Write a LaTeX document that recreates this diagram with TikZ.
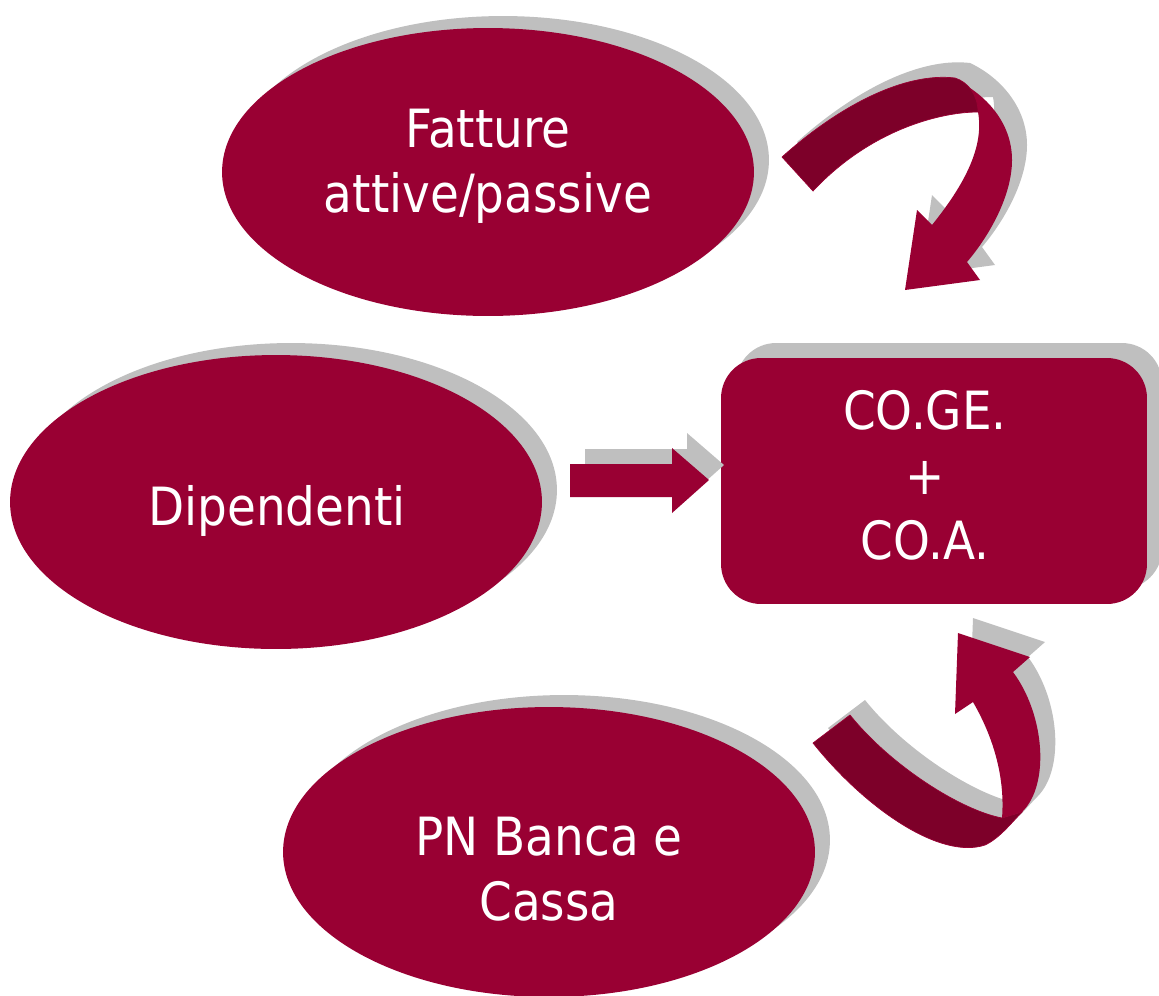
\documentclass[tikz,border=0pt]{standalone}
\usepackage{fontspec}
\setmainfont{DejaVu Sans}[FakeStretch=0.89]
\usetikzlibrary{shapes.geometric,shadows}
\definecolor{wine}{HTML}{990033}
\definecolor{winedark}{HTML}{7D0029}
\definecolor{shade}{HTML}{BFBFBF}
\newcommand\toparrowfull{(782,157) .. controls (840,105) and (905,72) .. (955,78) .. controls (985,92) and (1012,122) .. (1012,160) .. controls (1012,195) and (990,235) .. (967,262) -- (980,280) -- (905,290) -- (917,210) -- (932,225) .. controls (960,190) and (985,150) .. (978,112) .. controls (940,112) and (870,130) .. (813,191) -- cycle}
\newcommand\toparrowlight{(956,80) .. controls (985,94) and (1012,122) .. (1012,160) .. controls (1012,195) and (990,235) .. (967,262) -- (980,280) -- (905,290) -- (917,210) -- (932,225) .. controls (960,190) and (985,150) .. (978,112) -- (960,95) -- cycle}
\newcommand\toparrowdark{(782,157) .. controls (840,105) and (905,72) .. (955,78) .. controls (968,82) and (978,95) .. (978,112) .. controls (940,112) and (870,130) .. (813,191) -- cycle}
\newcommand\botarrowfull{(850,715) -- (813,743) .. controls (865,808) and (940,860) .. (985,845) .. controls (1000,838) and (1012,822) .. (1022,812) .. controls (1050,785) and (1045,715) .. (1013,672) -- (1030,657) -- (958,633) -- (955,714) -- (973,702) .. controls (995,740) and (1005,780) .. (1002,818) .. controls (960,810) and (890,765) .. (850,715) -- cycle}
\newcommand\botarrowlight{(1002,818) .. controls (1005,780) and (995,740) .. (973,702) -- (955,714) -- (958,633) -- (1030,657) -- (1013,672) .. controls (1045,715) and (1050,785) .. (1022,812) -- cycle}
\newcommand\botarrowdark{(850,715) -- (813,743) .. controls (865,808) and (940,860) .. (985,845) .. controls (1000,838) and (1012,822) .. (1022,812) -- (1002,818) .. controls (960,810) and (890,765) .. (850,715) -- cycle}
\newcommand\strarrow{(570,464) -- (672,464) -- (672,448) -- (709,480) -- (672,513) -- (672,497) -- (570,497) -- cycle}
\begin{document}
\begin{tikzpicture}[x=0.02cm,y=-0.02cm,
  blob/.style={ellipse, fill=wine, inner sep=0pt, minimum width=10.64cm,
    drop shadow={shadow xshift=0.3cm, shadow yshift=0.24cm, fill=shade, opacity=1}},
  box/.style={rectangle, rounded corners=0.8cm, fill=wine, inner sep=0pt,
    minimum width=8.52cm, minimum height=4.92cm,
    drop shadow={shadow xshift=0.3cm, shadow yshift=0.3cm, fill=shade, opacity=1}},
  lbl/.style={text=white, align=center, inner sep=0pt, font=\fontsize{30}{37}\selectfont},
  shadowpath/.style={fill=shade, xshift=0.3cm, yshift=0.3cm},
  lightpart/.style={fill=wine},
  darkpart/.style={fill=winedark, draw=wine, line width=0.4pt}
]
\useasboundingbox (0,0) rectangle (1159,995);
% ellipses
\node[blob, minimum height=5.76cm] (fatture) at (488,172) {};
\node[blob, minimum height=5.88cm] (dip) at (276,502) {};
\node[blob, minimum height=5.80cm] (pn) at (549,852) {};
\node[box] (coge) at (934,481) {};
% labels
\node[lbl] (fatture-t) at (488,166) {Fatture\\attive/passive};
\node[lbl] (dip-t) at (277,511) {Dipendenti};
\node[lbl] (pn-t) at (549,869) {PN Banca e\\Cassa};
\node[lbl] (coge-t) at (925,475) {CO.GE.\\+\\CO.A.};
% straight arrow
\fill[shadowpath] \strarrow;
\fill[lightpart] \strarrow;
% top curved arrow
\fill[shadowpath] \toparrowfull;
\fill[lightpart] \toparrowlight;
\fill[darkpart] \toparrowdark;
% bottom curved arrow
\fill[shadowpath] \botarrowfull;
\fill[lightpart] \botarrowlight;
\fill[darkpart] \botarrowdark;
\end{tikzpicture}
\end{document}
